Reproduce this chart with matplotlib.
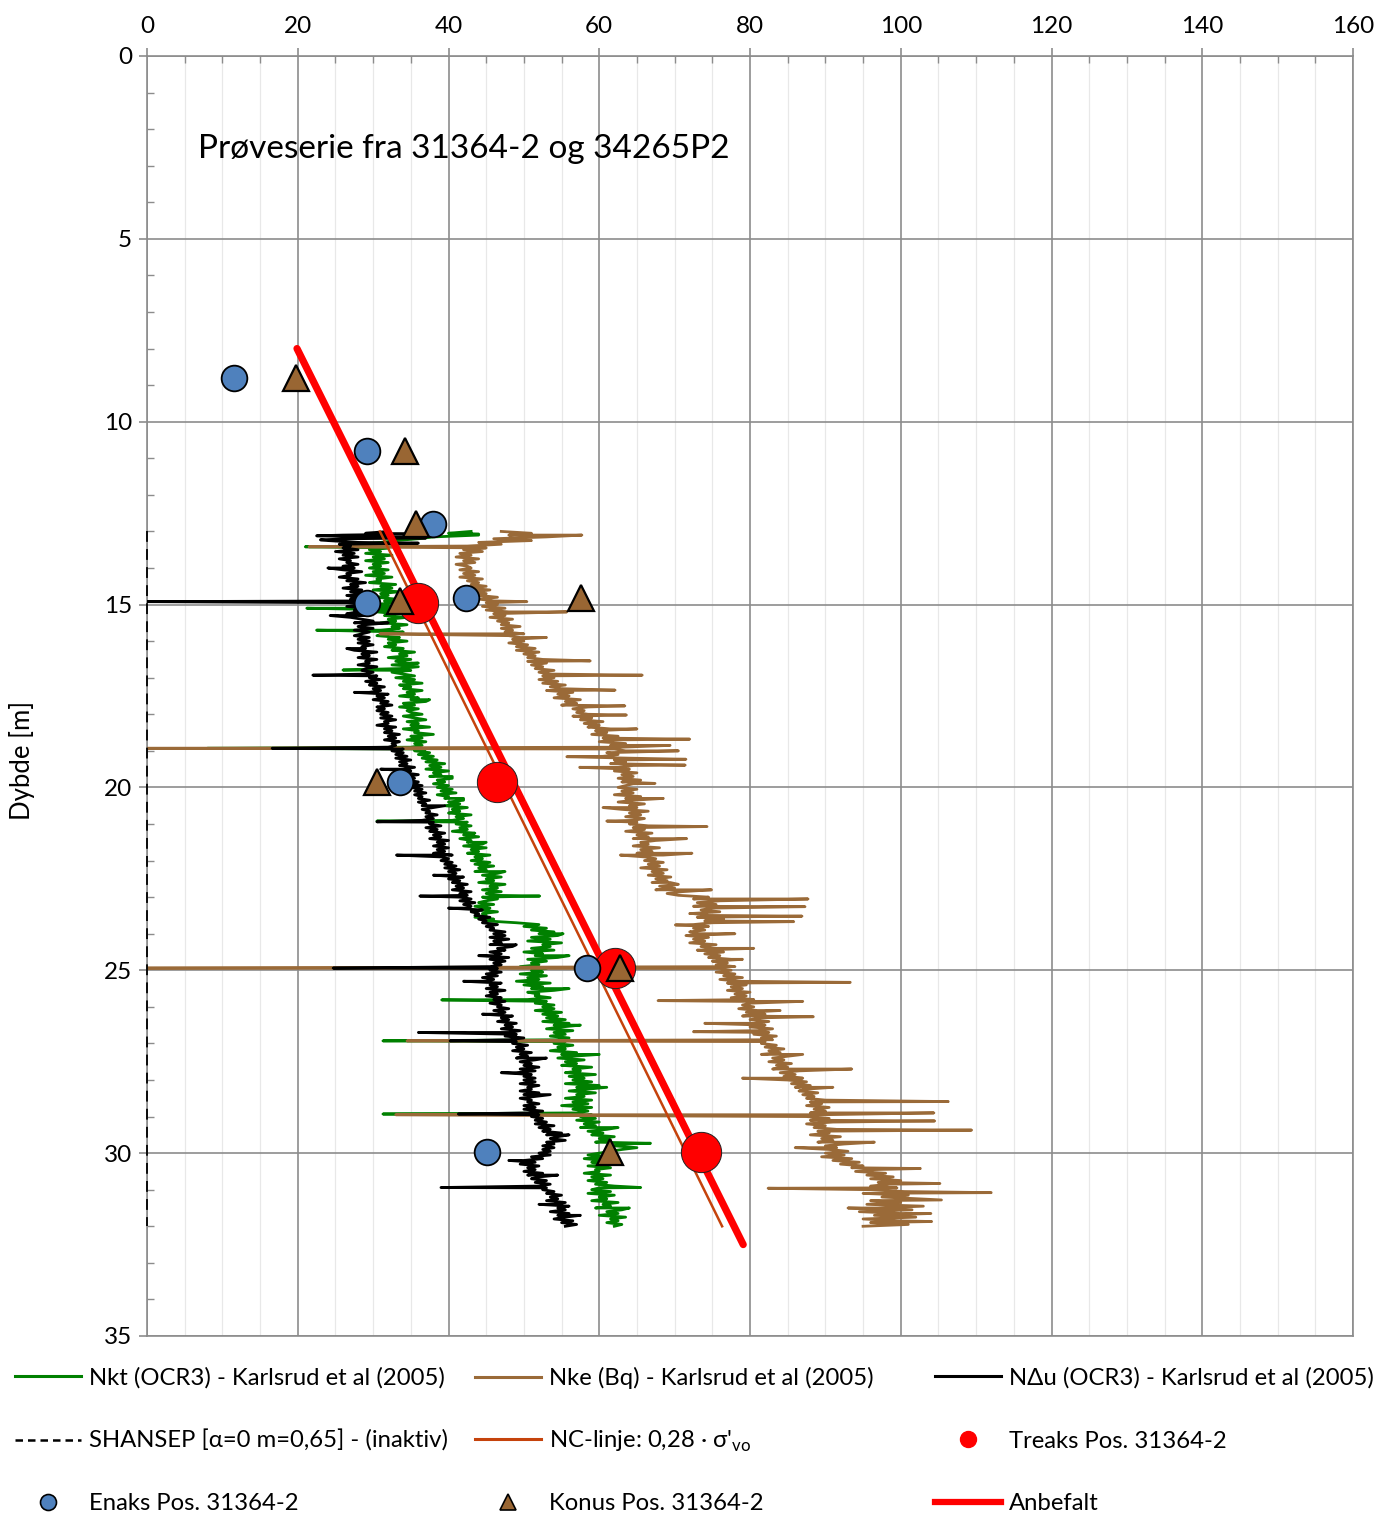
import numpy as np
import matplotlib
matplotlib.use('Agg')
import matplotlib.pyplot as plt
from matplotlib.lines import Line2D
from matplotlib.ticker import MultipleLocator

plt.rcParams['font.family'] = ['Lato', 'DejaVu Sans']
plt.rcParams['mathtext.fontset'] = 'custom'
plt.rcParams['mathtext.rm'] = 'Lato'

# ---------------- data ----------------
cpt_top = 13.0      # first CPT reading depth [m]
cpt_step = 0.05     # reading interval [m]

nkt_su = [
    43, 40, 44, 38, 36, 33, 31, 28, 30, 32, 29.5, 31, 29, 32.5, 30, 31.5, 29, 32, 30, 31,
    29.5, 32, 30, 31.5, 29, 32.5, 30.5, 31, 29.5, 33, 31, 32.5, 30, 33.5, 31, 32, 30.5, 33, 31.5, 33,
    30, 32.5, 31, 34, 30.5, 33, 31.5, 34.5, 32, 33, 31, 34.5, 32.5, 33.5, 31, 34, 32, 30.5, 33.5, 32,
    34.5, 32, 33, 31.5, 34, 32.5, 35.5, 33.5, 34.5, 32, 35, 33, 34.5, 32.5, 36, 33.5, 35, 32.5, 34, 35.5,
    33, 35.5, 34, 36.5, 33.5, 35, 34, 36.5, 34.5, 35.5, 33.5, 36, 35, 37, 34, 35.5, 33.5, 36, 34.5, 35,
    36.5, 34, 35.5, 37, 34.5, 36, 35, 37.5, 34, 36, 35.5, 38, 35, 36.5, 34.5, 37, 35.5, 36.5, 35, 37,
    35.5, 37.5, 36, 38, 36.5, 38.5, 37, 39.5, 37.5, 39, 37, 40, 38, 39, 37.5, 40.5, 38.5, 39.5, 38, 40,
    38.5, 40.5, 39, 41, 38.5, 40, 39.5, 42, 40, 41.5, 39.5, 42.5, 40.5, 41.5, 40, 43, 41, 42, 40.5, 42.5,
    41, 43, 41.5, 42.5, 40.5, 43.5, 42, 44, 41.5, 43, 42.5, 44.5, 42, 45, 43, 44, 42.5, 45.5, 43.5, 44.5,
    43, 45.5, 43.5, 46, 44, 45, 43.5, 46.5, 44.5, 47, 45, 46, 44, 47.5, 45.5, 46.5, 44.5, 47, 45, 46,
    44.5, 46.5, 45, 44, 46, 43.5, 45.5, 44, 46.5, 44.5, 45, 43.5, 46, 45, 49, 52, 50, 53, 51, 54,
    52, 54.5, 51, 53.5, 50.5, 55, 52.5, 53.5, 51, 54, 50, 52.5, 51.5, 54.5, 50.5, 53, 51, 52, 49.5, 53,
    51, 52.5, 49.5, 53, 50.5, 52, 49, 53.5, 50, 52.5, 51, 54, 50.5, 52, 51.5, 53.5, 50.5, 53, 51.5, 54,
    52.5, 54, 51.5, 55, 52.5, 54.5, 53, 55.5, 52.5, 56, 54, 55, 53, 56.5, 54, 55.5, 53.5, 56, 54.5, 55.5,
    54, 56.5, 54.5, 55.5, 53.5, 57, 55, 56.5, 54.5, 58, 55.5, 57, 55, 59, 56.5, 57.5, 55.5, 59.5, 56, 58,
    56.5, 59, 55.5, 60, 57, 58.5, 56, 59.5, 57, 58, 55.5, 59, 56.5, 58.5, 55, 59, 56.5, 58.5, 57, 59,
    57.5, 59.5, 57, 60, 58, 59.5, 57.5, 61, 58.5, 60.5, 59, 62, 60, 61.5, 59.5, 63, 62, 65, 63, 61.5,
    60, 58.5, 61, 58, 60.5, 59, 62, 58.5, 61.5, 59.5, 60, 58, 61.5, 59, 60.5, 58.5, 61, 59.5, 62, 60,
    59, 61.5, 58.5, 62, 60, 61, 59, 62.5, 60.5, 61.5, 59.5, 63, 61, 62.5, 60, 63.5, 61.5, 62.5, 61, 63,
    62]

ndu_su = [
    32, 29, 26, 30, 27, 24, 28, 25.5, 27, 26, 28, 25, 27.5, 26, 28, 25.5, 27, 26.5, 28, 26,
    27.5, 26, 28.5, 26.5, 27, 25.5, 28, 26.5, 29, 27, 28, 26, 28.5, 27, 29.5, 26.5, 28, 27, 29, 27.5,
    28.5, 26.5, 29, 27.5, 28, 26.5, 29.5, 27, 28.5, 30, 27.5, 29, 28, 30, 27.5, 29.5, 28.5, 27.5, 29.5, 28,
    29.5, 28, 30, 28.5, 29, 27.5, 30.5, 28.5, 29.5, 28, 30.5, 29, 29.5, 28, 30.5, 29, 28.5, 30, 29, 30.5,
    29.5, 31, 29, 30.5, 29.5, 31.5, 30, 31, 29.5, 32, 30.5, 31.5, 30, 32, 31, 32.5, 30.5, 31.5, 30.5, 32,
    31, 32.5, 31, 33, 31.5, 32, 30.5, 33, 31.5, 32.5, 31.5, 33.5, 32, 33, 31.5, 33.5, 32.5, 33, 32, 34,
    32.5, 34, 33, 34.5, 33, 35, 33.5, 34.5, 33.5, 35.5, 34, 35, 34, 36, 34.5, 35.5, 34.5, 36, 35, 36.5,
    35, 36.5, 35.5, 37, 35.5, 36.5, 36, 37.5, 36, 37, 36.5, 38, 36.5, 37.5, 37, 38.5, 37, 38, 36.5, 38,
    37.5, 39, 37, 38.5, 37.5, 39.5, 38, 39, 37.5, 40, 38.5, 39.5, 38, 40, 38.5, 39.5, 38, 40.5, 39, 40,
    39, 40.5, 39.5, 41, 39.5, 41.5, 40, 41, 40.5, 42, 40, 41.5, 40.5, 42.5, 41, 42, 40.5, 43, 41.5, 42.5,
    41.5, 43, 41.5, 43.5, 42, 43, 42.5, 44.5, 43, 44, 43.5, 45.5, 44, 45, 44.5, 46.5, 45, 46, 45.5, 47.5,
    46, 47.5, 45.5, 48, 46, 47, 45.5, 48.5, 46.5, 47.5, 45.5, 47, 46, 48, 45.5, 47.5, 46, 47, 45.5, 46.5,
    45.5, 47, 45, 46.5, 44.5, 46, 45, 47, 45.5, 46.5, 45, 47.5, 45.5, 46.5, 45, 47, 46, 47.5, 45.5, 47,
    46.5, 48, 46, 47.5, 46.5, 48.5, 47, 48, 46.5, 49, 47.5, 48.5, 47, 49.5, 48, 49, 47.5, 50, 48, 49,
    48.5, 50.5, 49, 50, 48.5, 51, 49.5, 50.5, 49, 51.5, 49.5, 51, 50, 52, 49.5, 51.5, 49, 51, 50, 51.5,
    50, 51.5, 49.5, 52, 50.5, 51, 49.5, 52, 50, 51.5, 49.5, 51, 50.5, 52, 50, 51.5, 50, 52.5, 50.5, 52,
    51, 52.5, 51.5, 53, 51.5, 54, 52, 53.5, 52.5, 55, 53, 54.5, 53.5, 55.5, 53, 54, 52.5, 54, 52.5, 53.5,
    52, 53.5, 51, 52.5, 50, 51.5, 49.5, 52, 50.5, 51.5, 50, 52.5, 50.5, 52, 51, 53, 51.5, 53.5, 52, 53,
    52.5, 54, 53, 55, 53.5, 54.5, 53, 55.5, 54, 56, 54.5, 55.5, 53.5, 56, 54.5, 55.5, 54, 56.5, 55, 57,
    55.5]

nke_su = [
    47, 51, 48, 53, 46, 50, 44, 47, 42.5, 45, 42, 44.5, 41.5, 43, 41, 44, 42, 43.5, 41, 42.5,
    43, 41.5, 44, 42, 43.5, 41.5, 44.5, 42.5, 44, 43, 45, 42.5, 45.5, 43.5, 45, 44, 46.5, 44, 46, 45,
    46.5, 44.5, 47.5, 45, 48, 46, 47.5, 45.5, 48.5, 46.5, 48, 47, 49.5, 47, 48.5, 47.5, 50, 48, 49.5, 48.5,
    50, 48, 50.5, 49, 51.5, 49, 52, 50, 51.5, 50.5, 52.5, 50.5, 53, 51, 52.5, 51.5, 54, 52, 53.5, 52.5,
    54, 52, 54.5, 52.5, 55.5, 53.5, 55, 53, 56.5, 54.5, 56, 54, 57.5, 55.5, 57, 55, 58.5, 56.5, 58, 57,
    58.5, 56.5, 59, 57.5, 60.5, 58, 60, 58.5, 61.5, 59.5, 61, 59, 62.5, 60.5, 62, 60, 63.5, 61.5, 63, 62,
    63.5, 61, 62.5, 60.5, 64, 62, 63.5, 61.5, 64.5, 62.5, 64, 62, 65, 63, 64.5, 62.5, 65.5, 63, 64.5, 63.5,
    62.5, 65, 63, 64.5, 62, 65.5, 63.5, 64.5, 62.5, 66, 64, 65, 63, 66.5, 64, 65.5, 63.5, 66, 64.5, 65,
    64, 66.5, 64.5, 66, 63.5, 67, 65, 66.5, 64.5, 67.5, 65.5, 66.5, 64.5, 68, 65.5, 67, 65, 68.5, 66, 67.5,
    66, 68.5, 66.5, 68, 65.5, 69, 67, 68.5, 66.5, 69.5, 67.5, 69, 67, 70.5, 68, 70, 67.5, 71, 69, 70.5,
    74.5, 72.5, 76, 73, 75.5, 72.5, 75, 73.5, 76, 72, 74.5, 73, 76.5, 74, 75, 72.5, 74.5, 72.5, 74, 72,
    73, 71.5, 74.5, 72.5, 74, 72, 75.5, 73.5, 75, 73, 76.5, 74, 76, 74.5, 77.5, 75, 77, 75.5, 78, 76,
    77.5, 75.5, 78, 76.5, 79, 76, 78.5, 77, 79.5, 77.5, 79, 77, 80, 78, 79.5, 77.5, 80.5, 78.5, 80, 79,
    80.5, 78.5, 81, 79.5, 82, 79, 81.5, 80, 82.5, 80.5, 82, 80, 83, 81, 82.5, 80.5, 83.5, 81.5, 83, 82,
    81.5, 83.5, 82, 84.5, 82.5, 84, 81.5, 85, 83, 84.5, 82.5, 85.5, 83.5, 85, 83, 86.5, 84, 86, 84.5, 87,
    85, 87.5, 85.5, 88, 86, 87.5, 86.5, 89, 87, 88.5, 87.5, 90, 88, 89.5, 87.5, 90.5, 88.5, 90, 88, 89.5,
    87.5, 90.5, 88, 91, 87.5, 90, 88.5, 91.5, 89, 90.5, 88, 92, 89.5, 91, 89, 92.5, 90, 91.5, 90.5, 93,
    90, 92.5, 89.5, 93.5, 91, 94.5, 92, 95, 93.5, 96.5, 94, 98, 95.5, 99, 96, 100, 97, 98.5, 96, 99.5,
    96, 100.5, 95, 101, 97.5, 102.5, 96, 100, 95.5, 103, 97, 101.5, 94.5, 100, 96.5, 102, 95, 99.5, 96, 101,
    95]

# single-reading spikes in the CPT records (depth, value)
nkt_spike_depth = [13.07, 13.42, 15.1, 15.7, 16.6, 16.79, 17.6, 18.93, 19.7, 20.3, 20.92,
                   21.5, 22.3, 22.97, 24.0, 24.6, 25.5, 25.81, 26.5, 26.93, 27.3, 28.2,
                   28.93, 29.3, 29.73, 30.3, 30.94, 31.5]
nkt_spike_su = [44, 21, 21.2, 22.5, 36, 26, 37.5, 8, 40.5, 42, 30.5,
                45, 47.5, 52.1, 55.2, 56, 56, 39.1, 57.5, 31.3, 60, 61,
                31.3, 62.5, 66.8, 63, 65.5, 64]

nke_spike_depth = [13.1, 13.25, 13.42, 14.92, 15.2, 15.8, 15.9, 16.54, 16.93, 17.34, 17.77,
                   18.02, 18.4, 18.68, 18.85, 18.93, 19.0, 19.16, 19.23, 19.39, 19.45, 19.89,
                   20.3, 20.55, 20.92, 21.07, 21.4, 21.8, 21.85, 22.6, 22.8, 23.05, 23.26,
                   23.45, 23.52, 23.67, 23.76, 24.0, 24.4, 24.7, 24.94, 25.33, 25.83, 25.85,
                   26.1, 26.27, 26.45, 26.68, 26.93, 27.3, 27.7, 27.95, 28.2, 28.59, 28.9,
                   28.95, 29.12, 29.37, 29.7, 29.85, 30.42, 30.83, 30.96, 31.08, 31.28, 31.5,
                   31.65, 31.87]
nke_spike_su = [57.7, 51, 21.5, 50.4, 55.7, 30.9, 53, 58.8, 65.7, 62.1, 63.4,
                63.6, 65, 72, 69.4, 0, 70.5, 55.7, 71.5, 71.4, 57.4, 67.4,
                68.5, 60.5, 61, 74.3, 71.6, 72.3, 62.8, 69.4, 74.9, 87.7, 87.3,
                72.5, 86.9, 85.8, 70.1, 78, 80.5, 79, 0, 93.3, 67.8, 87,
                84, 88.4, 74, 72.5, 34.5, 87, 93.5, 79, 91, 106.3, 104.4,
                33, 104.5, 109.4, 96.5, 86, 102.6, 105.2, 82.4, 112, 105.4, 93,
                104, 104.1]

ndu_spike_depth = [13.07, 13.12, 13.18, 13.23, 13.32, 14.0, 14.92, 15.3, 15.5, 16.2, 16.93,
                   17.4, 18.93, 19.5, 20.5, 20.94, 21.85, 22.4, 22.97, 23.3, 24.3, 24.6,
                   24.94, 25.3, 26.2, 26.7, 26.93, 27.4, 27.8, 28.4, 28.93, 29.5, 30.2,
                   30.6, 30.94, 31.4, 31.7]
ndu_spike_su = [35.8, 22.5, 37, 23, 36, 24, 0, 24.3, 32, 26.5, 22,
                27.5, 16.6, 31, 39.5, 30.5, 33.1, 38, 36.2, 40, 49, 44,
                24.7, 42, 44.5, 36, 40.2, 53, 47, 53.5, 41.3, 56, 48,
                54.5, 39, 52, 57.5]

shansep_depth = [13.0, 32.0]
shansep_su = [0.0, 0.0]

nc_depth = [13.0, 32.0]
nc_su = [30.9, 76.3]

anbefalt_depth = [8.0, 32.5]
anbefalt_su = [19.9, 79.1]

treaks_depth = [14.96, 19.85, 24.94, 29.97]
treaks_su = [36.0, 46.4, 62.1, 73.5]

enaks_depth = [8.8, 10.8, 12.8, 14.96, 14.82, 19.85, 24.94, 29.97]
enaks_su = [11.5, 29.2, 37.9, 29.2, 42.3, 33.6, 58.4, 45.1]

konus_depth = [8.8, 10.8, 12.8, 14.82, 14.9, 19.85, 24.94, 29.97]
konus_su = [19.8, 34.2, 35.7, 57.6, 33.6, 30.5, 62.8, 61.4]

x_ticks = [0, 20, 40, 60, 80, 100, 120, 140, 160]
y_ticks = [0, 5, 10, 15, 20, 25, 30, 35]

labels = ["Nkt (OCR3) - Karlsrud et al (2005)",
          "Nke (Bq) - Karlsrud et al (2005)",
          "NΔu (OCR3) - Karlsrud et al (2005)",
          "SHANSEP [α=0 m=0,65] - (inaktiv)",
          r"NC-linje: 0,28 · σ'$_{\mathrm{vo}}$",
          "Treaks Pos. 31364-2",
          "Enaks Pos. 31364-2",
          "Konus Pos. 31364-2",
          "Anbefalt"]
title = "Prøveserie fra 31364-2 og 34265P2"

# ---------------- helpers ----------------
def with_spikes(base, sd, sv):
    base = np.asarray(base, float)
    grid = np.round(cpt_top + cpt_step * np.arange(len(base)), 3)
    d = np.concatenate([grid, np.asarray(sd, float)])
    v = np.concatenate([base, np.asarray(sv, float)])
    o = np.argsort(d, kind='stable')
    return v[o], d[o]

GREEN = '#008000'
BROWN = '#9A6A38'
NCCOL = '#C5430C'
BLUE = '#4F81BD'
RED = '#FF0000'
GRID = '#8C8C8C'

fig = plt.figure(figsize=(13.89, 15.17), dpi=100)
ax = fig.add_axes([147 / 1389, 1 - 1336 / 1517, (1353 - 147) / 1389, (1336 - 56) / 1517])

v, d = with_spikes(nkt_su, nkt_spike_depth, nkt_spike_su)
ax.plot(v, d, color=GREEN, lw=2.0, zorder=3)
v, d = with_spikes(nke_su, nke_spike_depth, nke_spike_su)
ax.plot(v, d, color=BROWN, lw=2.0, zorder=3.1)
v, d = with_spikes(ndu_su, ndu_spike_depth, ndu_spike_su)
ax.plot(v, d, color='black', lw=2.0, zorder=3.2)

ax.plot(shansep_su, shansep_depth, color='black', lw=1.3, ls=(0, (6, 4)), zorder=6, clip_on=False)
ax.plot(nc_su, nc_depth, color=NCCOL, lw=1.8, zorder=4)
ax.plot(anbefalt_su, anbefalt_depth, color=RED, lw=5.2, zorder=5, solid_capstyle='round')

ax.plot(treaks_su, treaks_depth, ls='none', marker='o', ms=29, mfc=RED, mec='#202020', mew=0.7, zorder=7)
ax.plot(enaks_su, enaks_depth, ls='none', marker='o', ms=18.5, mfc=BLUE, mec='black', mew=1.3, zorder=8)
ax.plot(konus_su, konus_depth, ls='none', marker='^', ms=19, mfc='#996633', mec='black', mew=1.6, zorder=9)

ax.text(6.8, 2.55, title, fontsize=24, va='center', ha='left', zorder=10)

# axes styling
ax.set_xlim(0, 160)
ax.set_ylim(35, 0)
ax.xaxis.tick_top()
ax.set_xticks(x_ticks)
ax.set_yticks(y_ticks)
ax.xaxis.set_minor_locator(MultipleLocator(5))
ax.yaxis.set_minor_locator(MultipleLocator(1))
ax.set_axisbelow(True)
ax.grid(which='major', color=GRID, lw=1.2)
ax.grid(which='minor', axis='x', color='#E8E8E8', lw=0.9)
for s in ax.spines.values():
    s.set_color(GRID)
    s.set_linewidth(1.2)
ax.tick_params(which='major', direction='out', length=5.8, width=1.2, color=GRID,
               labelsize=17.5, top=True, bottom=False, left=True, right=False,
               labeltop=True, labelbottom=False)
ax.tick_params(axis='x', which='major', pad=8)
ax.tick_params(axis='y', which='major', pad=5)
ax.tick_params(which='minor', direction='in', length=5, width=1.0, color=GRID,
               top=True, bottom=False, left=True, right=False)

fig.text(22 / 1389, 1 - 760 / 1517, "Dybde [m]", rotation=90, va='center', ha='center', fontsize=18.5)

# legend: one entry per slot, three columns x three rows
h_nkt = Line2D([], [], color=GREEN, lw=2.2)
h_nke = Line2D([], [], color=BROWN, lw=2.2)
h_ndu = Line2D([], [], color='black', lw=2.2)
h_sh = Line2D([], [], color='black', lw=1.8, ls=(0, (3, 2)))
h_nc = Line2D([], [], color=NCCOL, lw=2.2)
h_tr = Line2D([], [], ls='none', marker='o', ms=11.5, mfc=RED, mec=RED)
h_en = Line2D([], [], ls='none', marker='o', ms=11.5, mfc=BLUE, mec='black', mew=1.2)
h_ko = Line2D([], [], ls='none', marker='^', ms=11.5, mfc='#996633', mec='black', mew=1.2)
h_an = Line2D([], [], color=RED, lw=4.5)

entries = [(h_nkt, labels[0], 15, 1378), (h_nke, labels[1], 475, 1378), (h_ndu, labels[2], 935, 1378),
           (h_sh, labels[3], 15, 1441), (h_nc, labels[4], 475, 1441), (h_tr, labels[5], 935, 1441),
           (h_en, labels[6], 15, 1504), (h_ko, labels[7], 475, 1504), (h_an, labels[8], 935, 1504)]
for h, lab, xpx, ypx in entries:
    fig.legend([h], [lab], loc='center left', bbox_to_anchor=(xpx / 1389, 1 - ypx / 1517),
               frameon=False, fontsize=17.2, borderpad=0, borderaxespad=0,
               handlelength=2.75, handletextpad=0.33)

fig.savefig('out.png', dpi=100)
